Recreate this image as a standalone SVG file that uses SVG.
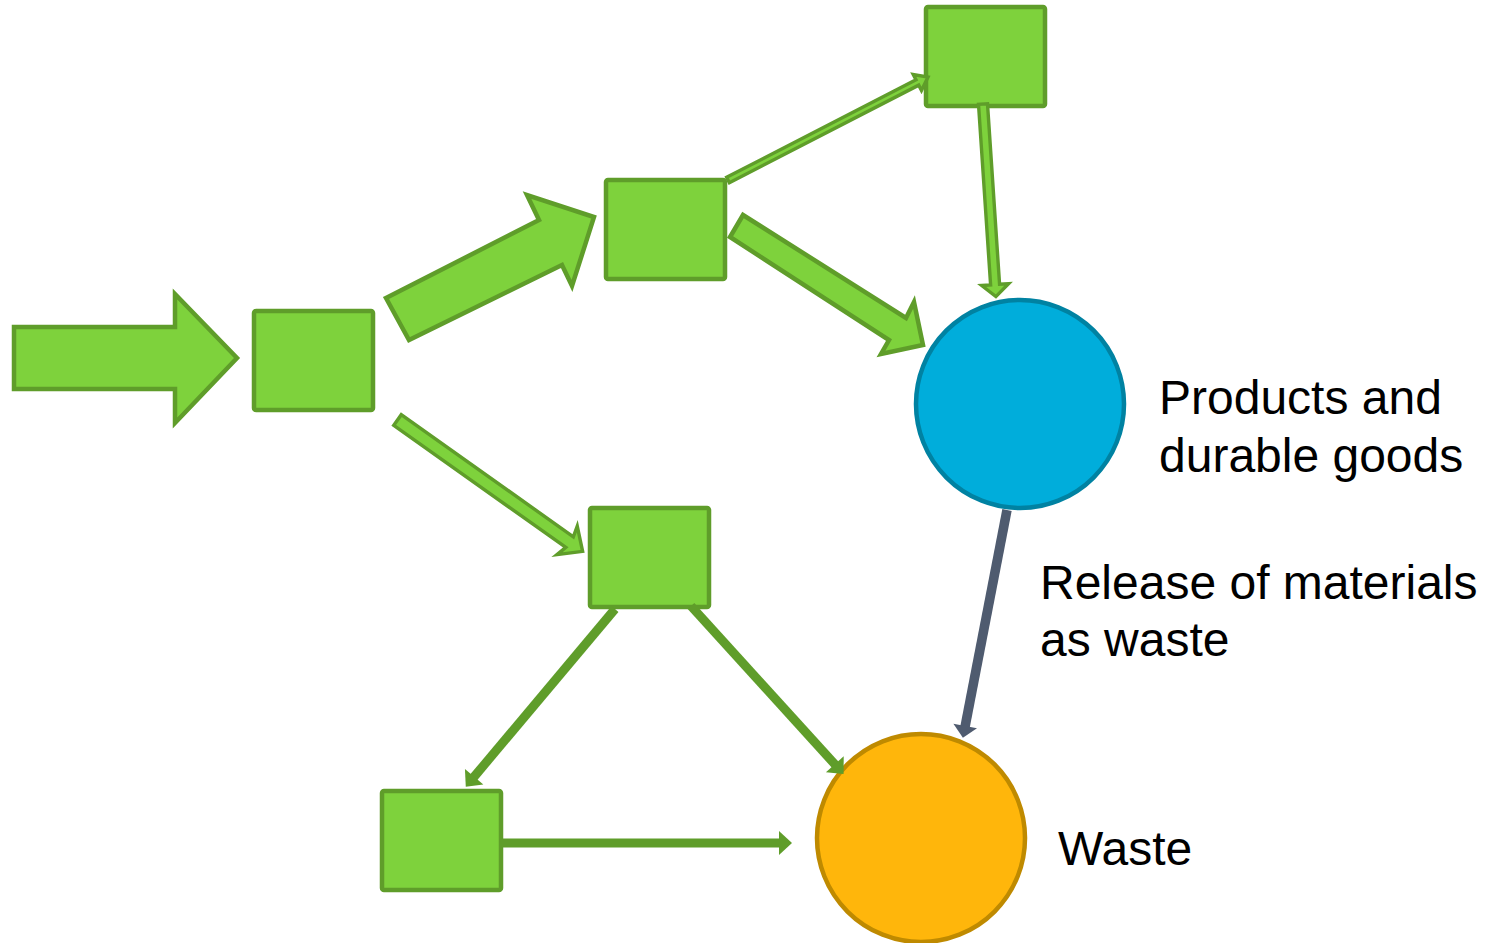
<svg xmlns="http://www.w3.org/2000/svg" width="1495" height="943" viewBox="0 0 1495 943">
<style>
.box{fill:#7ED23C;stroke:#5F9D2A;stroke-width:4.5}
.blk{fill:#7ED23C;stroke:#5F9D2A;stroke-width:4.5;stroke-linejoin:miter}
.thin{fill:#7ED23C;stroke:#5F9D2A;stroke-width:3.4;stroke-linejoin:miter}
.ln{stroke:#5F9D2A;stroke-width:9;fill:none;marker-end:url(#hg)}
.lg{stroke:#4F5B6F;stroke-width:9.5;fill:none;marker-end:url(#hd)}
.lbl{font-family:"Liberation Sans",Arial,sans-serif;font-size:48px;fill:#000}
</style>
<defs>
<marker id="hg" markerUnits="userSpaceOnUse" markerWidth="13" markerHeight="24" viewBox="0 0 13 24" refX="1" refY="12" orient="auto" overflow="visible">
<path d="M0,0 L13,12 L0,24 z" fill="#5F9D2A"/>
</marker>
<marker id="hd" markerUnits="userSpaceOnUse" markerWidth="12" markerHeight="24" viewBox="0 0 12 24" refX="1" refY="12" orient="auto" overflow="visible">
<path d="M0,0 L12,12 L0,24 z" fill="#4F5B6F"/>
</marker>
</defs>
<rect width="1495" height="943" fill="#fff"/>
<g id="nodes">
<g id="box1"><rect class="box" x="254" y="311" width="119" height="99" rx="2"/></g>
<g id="box2"><rect class="box" x="606" y="180" width="119" height="99" rx="2"/></g>
<g id="box3"><rect class="box" x="926" y="7" width="119" height="99" rx="2"/></g>
<g id="box4"><rect class="box" x="590" y="508" width="119" height="99" rx="2"/></g>
<g id="box5"><rect class="box" x="382" y="791" width="119" height="99" rx="2"/></g>
<g id="products"><circle cx="1020" cy="404" r="104" fill="#00ADDB" stroke="#0082A2" stroke-width="4.5"/>
<text class="lbl" x="1159" y="414">Products and</text>
<text class="lbl" x="1159" y="472">durable goods</text></g>
<g id="waste"><circle cx="921" cy="838" r="104" fill="#FFB60B" stroke="#BF8A00" stroke-width="4.5"/>
<text class="lbl" x="1058" y="865">Waste</text></g>
</g>
<g id="connectors">
<polygon class="blk" points="14,327 175,327 175,294 237,358 175,423 175,389 14,389"/>
<polygon class="blk" points="386,298 539,220 527,195 594,217 572,286 562,265 409,340"/>
<polygon class="blk" points="743,215 906,318 914,302 923,345 881,354 889,340 730,237"/>
<g transform="translate(728,180) rotate(-27.25)"><polygon class="thin" points="0,-3 213,-3 213,-9 225,0 213,9 213,3 0,3"/></g>
<g transform="translate(983,104) rotate(86.17)"><polygon class="thin" points="0,-4.5 181,-4.5 181,-13.5 193,0 181,13.5 181,4.5 0,4.5"/></g>
<g transform="translate(397.5,420) rotate(35.36)"><polygon class="thin" points="0,-6.5 211,-6.5 208,-17.5 227,0 208,17.5 211,6.5 0,6.5"/></g>
<line class="ln" x1="615" y1="609" x2="473.5" y2="777.5"/>
<line class="ln" x1="691" y1="606" x2="835.5" y2="765"/>
<line class="ln" x1="501" y1="843" x2="780" y2="843"/>
<line class="lg" x1="1007" y1="510" x2="965" y2="727"/>
<text class="lbl" x="1040" y="599">Release of materials</text>
<text class="lbl" x="1040" y="656">as waste</text>
</g>
</svg>
